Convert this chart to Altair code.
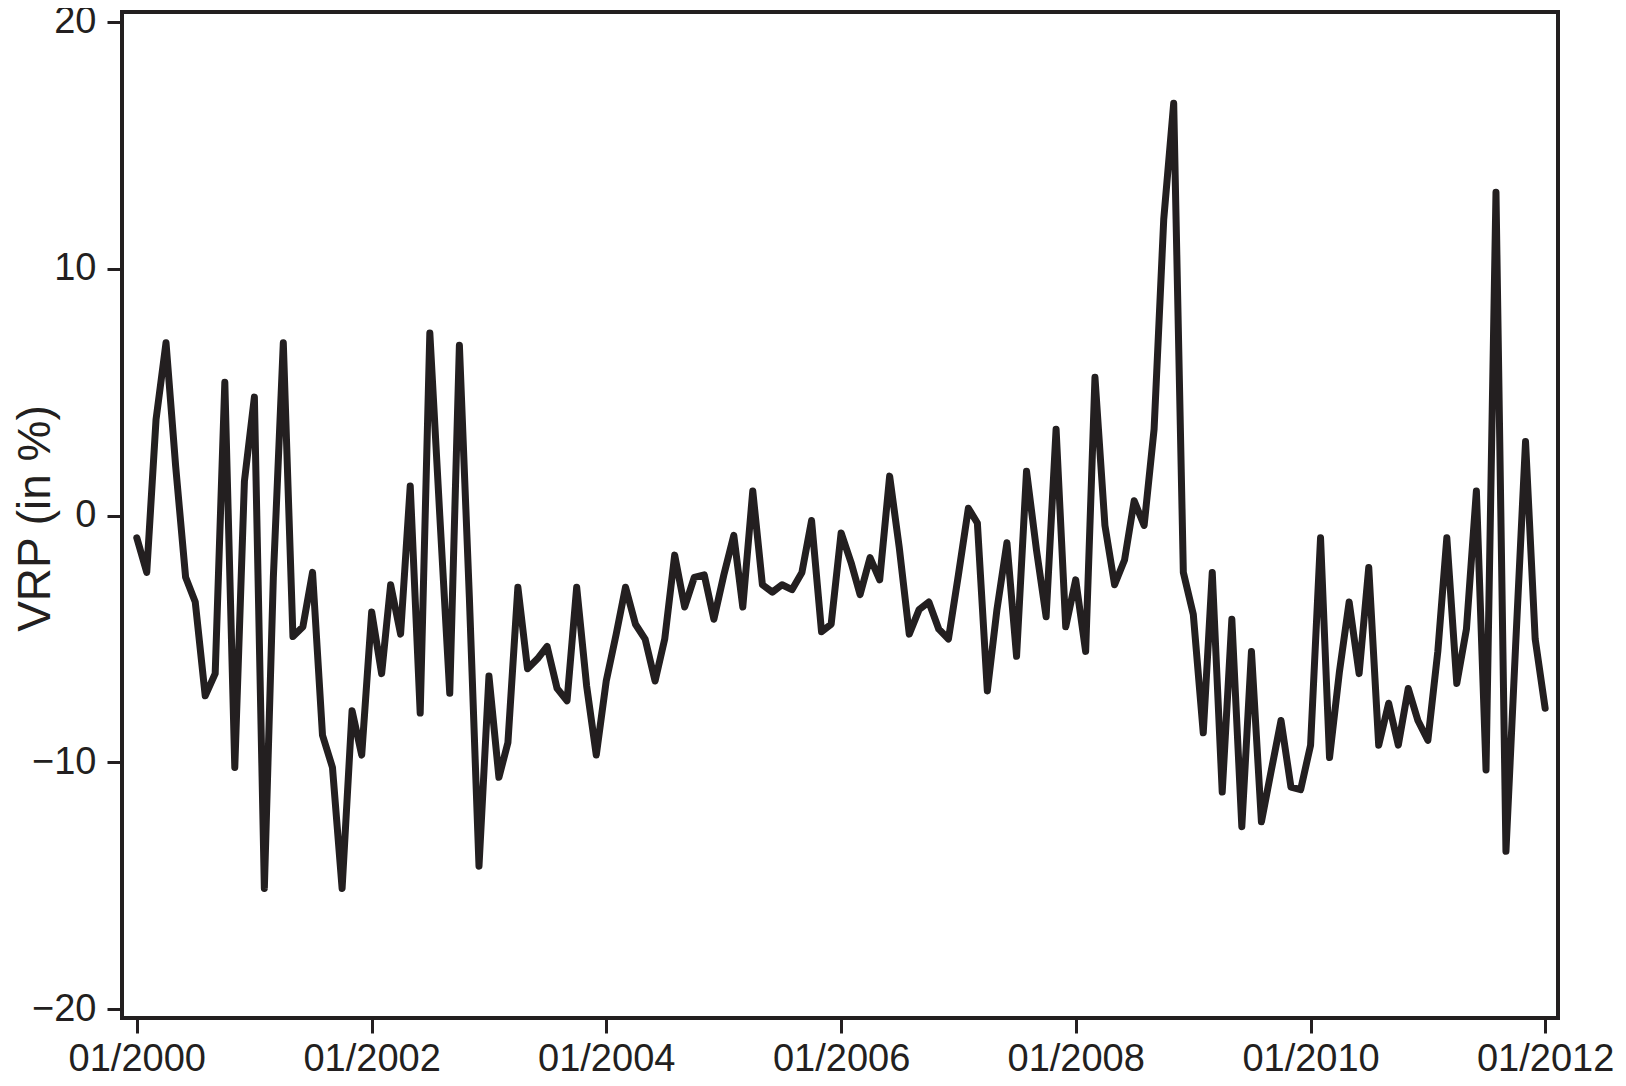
import altair as alt
import pandas as pd

# Monthly observations, 01/2000 .. 01/2012
months = pd.date_range("2000-01-01", periods=145, freq="MS").strftime("%Y-%m-%d").tolist()

vrp = [
    -0.9, -2.3, 3.9, 7.0, 2.0, -2.5, -3.5, -7.3, -6.4, 5.4, -10.2, 1.4,      # 2000
    4.8, -15.1, -2.5, 7.0, -4.9, -4.5, -2.3, -8.9, -10.2, -15.1, -7.9, -9.7,  # 2001
    -3.9, -6.4, -2.8, -4.8, 1.2, -8.0, 7.4, 0.0, -7.2, 6.9, -3.3, -14.2,      # 2002
    -6.5, -10.6, -9.2, -2.9, -6.2, -5.8, -5.3, -7.0, -7.5, -2.9, -6.9, -9.7,  # 2003
    -6.7, -4.8, -2.9, -4.4, -5.0, -6.7, -5.0, -1.6, -3.7, -2.5, -2.4, -4.2,   # 2004
    -2.4, -0.8, -3.7, 1.0, -2.8, -3.1, -2.8, -3.0, -2.3, -0.2, -4.7, -4.4,    # 2005
    -0.7, -1.9, -3.2, -1.7, -2.6, 1.6, -1.3, -4.8, -3.8, -3.5, -4.6, -5.0,    # 2006
    -2.4, 0.3, -0.3, -7.1, -3.8, -1.1, -5.7, 1.8, -1.4, -4.1, 3.5, -4.5,      # 2007
    -2.6, -5.5, 5.6, -0.4, -2.8, -1.8, 0.6, -0.4, 3.5, 12.0, 16.7, -2.3,      # 2008
    -4.0, -8.8, -2.3, -11.2, -4.2, -12.6, -5.5, -12.4, -10.3, -8.3, -11.0, -11.1,  # 2009
    -9.3, -0.9, -9.8, -6.3, -3.5, -6.4, -2.1, -9.3, -7.6, -9.3, -7.0, -8.3,   # 2010
    -9.1, -5.5, -0.9, -6.8, -4.6, 1.0, -10.3, 13.1, -13.6, -5.3, 3.0, -5.0,   # 2011
    -7.8,                                                                      # 01/2012
]

tick_years = [2000, 2002, 2004, 2006, 2008, 2010, 2012]
y_ticks = [-20, -10, 0, 10, 20]

df = pd.DataFrame({"date": months, "vrp": vrp})

ink = "#231f20"
font = "Liberation Sans"

x = alt.X(
    "date:T",
    title=None,
    scale=alt.Scale(
        type="utc",
        domain=[
            alt.DateTime(year=1999, month=11, date=16, utc=True),
            alt.DateTime(year=2012, month=2, date=10, utc=True),
        ],
    ),
    axis=alt.Axis(
        values=[alt.DateTime(year=yy, month=1, date=1, utc=True) for yy in tick_years],
        format="%m/%Y",
        labelPadding=7,
    ),
)

y = alt.Y(
    "vrp:Q",
    scale=alt.Scale(domain=[-20.35, 20.4], nice=False, zero=False),
    axis=alt.Axis(
        values=y_ticks,
        labelPadding=11,
        title="VRP (in %)",
        titleFontSize=46,
        titleFontWeight="normal",
        titleFont=font,
        titleColor=ink,
        titleAngle=270,
        titleAlign="center",
        titleBaseline="alphabetic",
        titleX=-73,
        titleY=506,
    ),
)

chart = (
    alt.Chart(df)
    .mark_line(color=ink, strokeWidth=7, strokeJoin="round", strokeCap="round")
    .encode(x=x, y=y)
    .properties(
        width=1436,
        height=1006,
        autosize=alt.AutoSizeParams(type="none"),
        padding={"left": 114, "top": 4, "right": 58, "bottom": 60},
        background="white",
    )
    .configure_view(stroke=ink, strokeWidth=4)
    .configure_axis(
        domain=False,
        grid=False,
        tickColor=ink,
        tickWidth=3,
        tickSize=15,
        labelFont=font,
        labelFontSize=38,
        labelColor=ink,
    )
)

chart.save("out.html", embed_options={"renderer": "svg", "actions": False})
